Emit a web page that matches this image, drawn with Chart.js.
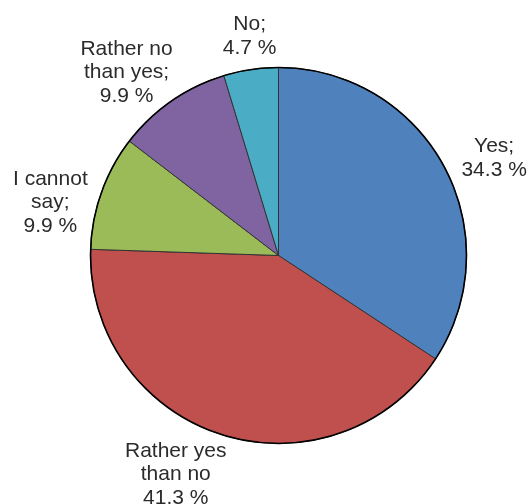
<!DOCTYPE html>
<html>
<head>
<meta charset="utf-8">
<script src="https://cdn.jsdelivr.net/npm/chart.js@4/dist/chart.umd.min.js"></script>
<style>
  html, body { margin: 0; padding: 0; background: #fff; }
</style>
</head>
<body>
<canvas id="pie" width="528" height="504"></canvas>
<script>
// data
const categories = ['Yes', 'Rather yes than no', 'I cannot say', 'Rather no than yes', 'No'];
const values = [34.3, 41.3, 9.9, 9.9, 4.7];
const labelText = [['Yes;'], ['Rather yes', 'than no'], ['I cannot', 'say;'], ['Rather no', 'than yes;'], ['No;']];
const colors = ['#4F81BD', '#C0504D', '#9BBB59', '#8064A2', '#4BACC6'];

// label placement: radial gap beyond the rim plus small per-label nudges
const labelGap = 49;
const labelNudge = [[7, 15], [-31, -7], [-5, 27], [-17, 12], [6, 15]];

const rimAndLabels = {
  id: 'rimAndLabels',
  afterDatasetsDraw(chart) {
    const ctx = chart.ctx;
    const arcs = chart.getDatasetMeta(0).data;
    if (!arcs.length) return;
    const first = arcs[0].getProps(['x', 'y', 'outerRadius'], true);

    // black outer rim
    ctx.save();
    ctx.beginPath();
    ctx.arc(first.x, first.y, first.outerRadius, 0, Math.PI * 2);
    ctx.lineWidth = 1.6;
    ctx.strokeStyle = '#000';
    ctx.stroke();

    // outside labels
    ctx.font = '21px "Liberation Sans", Arial, sans-serif';
    ctx.fillStyle = '#2b2b2b';
    ctx.textAlign = 'center';
    ctx.textBaseline = 'middle';
    const lineH = 23.5;
    arcs.forEach((arc, i) => {
      const p = arc.getProps(['x', 'y', 'startAngle', 'endAngle', 'outerRadius'], true);
      const mid = (p.startAngle + p.endAngle) / 2;
      const d = p.outerRadius + labelGap;
      const bx = p.x + Math.cos(mid) * d + labelNudge[i][0];
      const by = p.y + Math.sin(mid) * d + labelNudge[i][1];
      const lines = labelText[i].concat([values[i].toFixed(1) + ' %']);
      lines.forEach((t, k) => {
        ctx.fillText(t, bx, by + (k - (lines.length - 1) / 2) * lineH);
      });
    });
    ctx.restore();
  }
};

const ctx1 = document.getElementById('pie');
const pie = new Chart(ctx1, {
  type: 'pie',
  data: {
    labels: categories,
    datasets: [{
      data: values,
      backgroundColor: colors,
      borderColor: '#333',
      borderWidth: 1
    }]
  },
  options: {
    responsive: false,
    animation: false,
    layout: { padding: { left: 90, right: 61, top: 67, bottom: 60 } },
    plugins: {
      legend: { display: false },
      tooltip: { enabled: false }
    }
  },
  plugins: [rimAndLabels]
});
</script>
</body>
</html>
